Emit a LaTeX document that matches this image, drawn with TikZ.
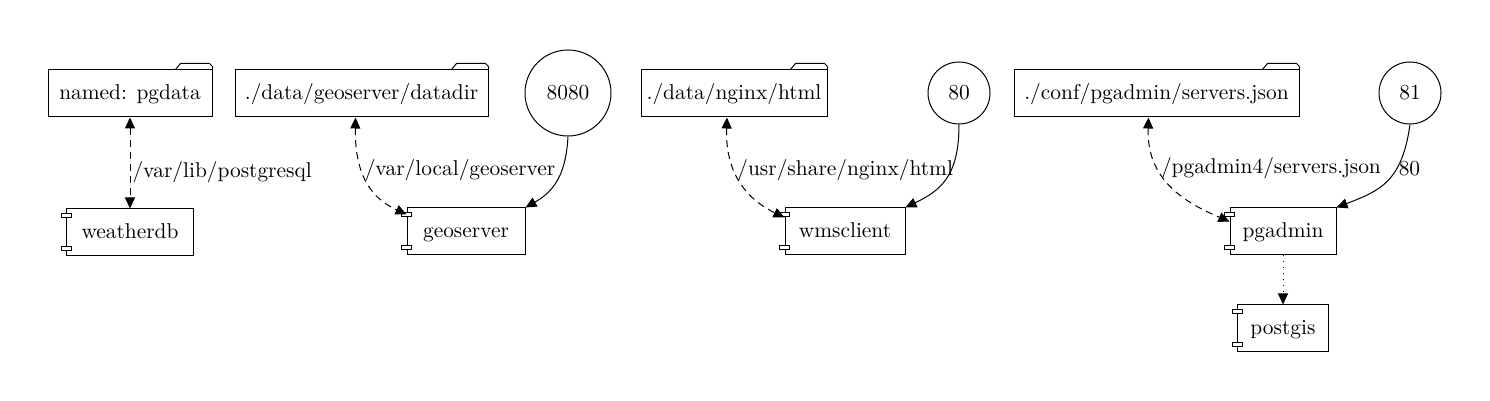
\documentclass[tikz,border=0pt]{standalone}
\usepackage{tikz}
\usetikzlibrary{positioning,arrows.meta,calc}

\begin{document}
\begin{tikzpicture}[
  x=0.5pt, y=0.5pt, >={Triangle[length=5.5pt,width=5pt]},
  every node/.style={font=\fontsize{10.7}{13}\selectfont},
  folder/.style={draw, line width=0.5pt, rectangle, minimum height=23.5pt, inner sep=0pt, text height=8pt, text depth=2pt},
  svc/.style={draw, line width=0.5pt, rectangle, minimum height=23.5pt, inner sep=0pt, text height=8pt, text depth=2pt},
  pub/.style={draw, line width=0.5pt, circle, inner sep=0pt},
  vol/.style={<->, line width=0.5pt, dash pattern=on 3.5pt off 2.5pt},
  map/.style={->, line width=0.5pt},
  dep/.style={->, line width=0.5pt, dash pattern=on 0.5pt off 2.5pt},
  lbl/.style={anchor=west, inner sep=1pt}
]
\useasboundingbox (0,0) rectangle (1490,401);

\node[folder, minimum width=82pt] (pgdata) at (130,307.5) {named: pgdata};
\node[folder, minimum width=126.5pt] (gsdata) at (361.5,307.5) {./data/geoserver/datadir};
\node[folder, minimum width=93pt] (nginxhtml) at (734,307.5) {./data/nginx/html};
\node[folder, minimum width=142.5pt] (pgservers) at (1156.5,307.5) {./conf/pgadmin/servers.json};

\node[pub, minimum size=43pt] (p8080) at (568,308) {8080};
\node[pub, minimum size=31pt] (p80) at (959,308) {80};
\node[pub, minimum size=31pt] (p81) at (1410,308) {81};

\node[svc, minimum width=63.5pt, below=45.5pt of pgdata] (weatherdb) {weatherdb};
\node[svc, minimum width=59pt] (geoserver) at (466,169.5) {geoserver};
\node[svc, minimum width=60pt] (wmsclient) at (845,169.5) {wmsclient};
\node[svc, minimum width=53pt] (pgadmin) at (1283,169.5) {pgadmin};
\node[svc, minimum width=45.5pt, below=24.5pt of pgadmin] (postgis) {postgis};

\foreach \f in {pgdata,gsdata,nginxhtml,pgservers}
  \draw[line width=0.5pt] ($(\f.north east)+(-37,0)$) -- ++(5,6) -- ++(29,0) -- ++(3,-3) -- (\f.north east);
\foreach \c in {weatherdb,geoserver,wmsclient,pgadmin,postgis} {
  \draw[line width=0.5pt, fill=white] ($(\c.north west)+(-5,-5)$) rectangle ++(10,-4);
  \draw[line width=0.5pt, fill=white] ($(\c.south west)+(-5,10)$) rectangle ++(10,-4);
}

\draw[vol] (pgdata.south) -- (weatherdb.north) node[lbl, pos=0.6] {/var/lib/postgresql};
\draw[vol] ([xshift=-3pt]gsdata.south) .. controls +(-1,-64) and +(-30,14) .. ([yshift=-3.5pt]geoserver.north west)
  node[lbl, pos=0.35] {/var/local/geoserver};
\draw[map] (p8080.south) .. controls +(-2,-36) and +(30,17) .. (geoserver.north east);
\draw[vol] ([xshift=-3.5pt]nginxhtml.south) .. controls +(-2,-59) and +(-35,17) .. ([yshift=-5pt]wmsclient.north west)
  node[lbl, pos=0.37] {/usr/share/nginx/html};
\draw[map] (p80.south) .. controls +(0,-52) and +(35,17) .. (wmsclient.north east);
\draw[vol] ([xshift=-4pt]pgservers.south) .. controls +(-2,-59) and +(-50,21) .. ([yshift=-7pt]pgadmin.north west)
  node[lbl, pos=0.35] {/pgadmin4/servers.json};
\draw[map] (p81.south) .. controls +(-8,-57) and +(44,17) .. (pgadmin.north east) node[lbl, pos=0.35] {80};
\draw[dep] (pgadmin.south) -- (postgis.north);
\end{tikzpicture}
\end{document}
